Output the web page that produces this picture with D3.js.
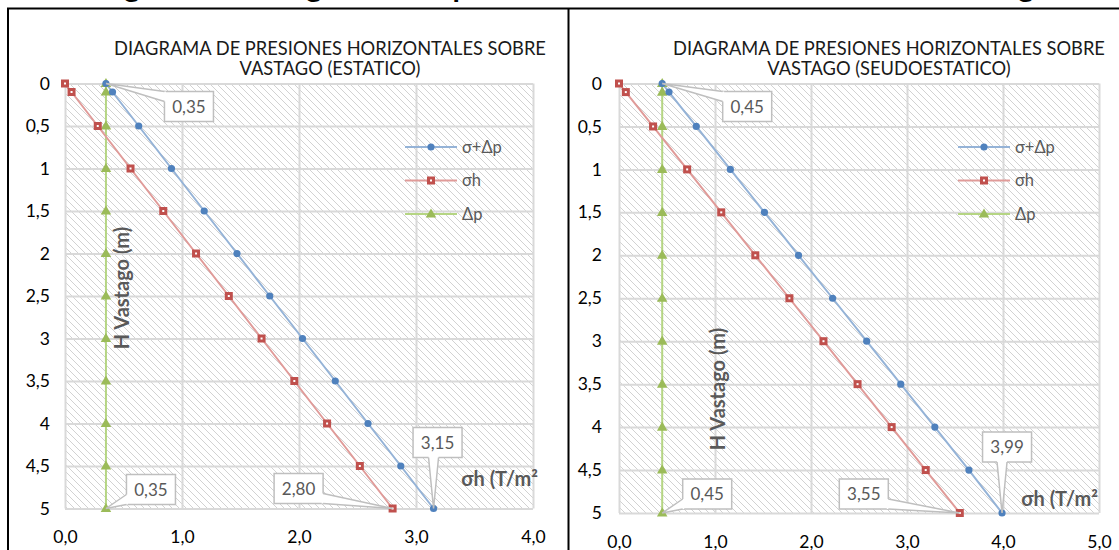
<!DOCTYPE html>
<html><head><meta charset="utf-8">
<script src="https://cdn.jsdelivr.net/npm/d3@7"></script>
<style>body{margin:0;background:#fff}svg{display:block}</style>
</head><body><svg id="c" width="1119" height="550"></svg>
<script>
// ---------- data ----------
const depths      = [0, 0.1, 0.5, 1, 1.5, 2, 2.5, 3, 3.5, 4, 4.5, 5];
const estTotal    = [0.35, 0.406, 0.63, 0.91, 1.19, 1.47, 1.75, 2.03, 2.31, 2.59, 2.87, 3.15];
const estSigmaH   = [0, 0.056, 0.28, 0.56, 0.84, 1.12, 1.40, 1.68, 1.96, 2.24, 2.52, 2.80];
const estDeltaP   = [0.35, 0.35, 0.35, 0.35, 0.35, 0.35, 0.35, 0.35, 0.35, 0.35, 0.35, 0.35];
const seuTotal    = [0.45, 0.521, 0.805, 1.16, 1.515, 1.87, 2.225, 2.58, 2.935, 3.29, 3.645, 3.99];
const seuSigmaH   = [0, 0.071, 0.355, 0.71, 1.065, 1.42, 1.775, 2.13, 2.485, 2.84, 3.195, 3.55];
const seuDeltaP   = [0.45, 0.45, 0.45, 0.45, 0.45, 0.45, 0.45, 0.45, 0.45, 0.45, 0.45, 0.45];
const seriesNames = ["σ+Δp", "σh", "Δp"];
const depthTicks  = [0, 0.5, 1, 1.5, 2, 2.5, 3, 3.5, 4, 4.5, 5];
const estPressureTicks = [0, 1, 2, 3, 4];
const seuPressureTicks = [0, 1, 2, 3, 4, 5];
const estTitle = ["DIAGRAMA DE PRESIONES HORIZONTALES SOBRE", "VASTAGO (ESTATICO)"];
const seuTitle = ["DIAGRAMA DE PRESIONES HORIZONTALES SOBRE", "VASTAGO (SEUDOESTATICO)"];
const yAxisTitle = "H Vastago (m)";
const xAxisTitle = "σh (T/m²";
// data labels: series index, point index, text
const estLabels = [[2, 0, "0,35"], [2, 11, "0,35"], [0, 11, "3,15"], [1, 11, "2,80"]];
const seuLabels = [[2, 0, "0,45"], [2, 11, "0,45"], [0, 11, "3,99"], [1, 11, "3,55"]];
const pageTitleGlyphs = ["g", "g", "p", "g"];

// ---------- drawing ----------
const svg = d3.select("#c");
const FONT = "Lato, 'Open Sans', sans-serif";
const loc = d3.formatLocale({decimal: ",", thousands: ".", grouping: [3], currency: ["", ""]});
const fmtY = loc.format(".1~f");
const fmtX = loc.format(".1f");

const defs = svg.append("defs");
const pat = defs.append("pattern").attr("id", "hatch").attr("patternUnits", "userSpaceOnUse")
  .attr("width", 7).attr("height", 7);
pat.append("rect").attr("width", 7).attr("height", 7).attr("fill", "#fff");
pat.append("path").attr("d", "M0,0L7,7M-1,6L1,8M6,-1L8,1")
  .attr("stroke", "#d2d2d2").attr("stroke-width", 1);

svg.append("rect").attr("width", 1119).attr("height", 550).attr("fill", "#fff");

// cut page title (only descenders visible)
const glyphX = [132, 314, 461, 1026];
svg.selectAll("text.pt").data(pageTitleGlyphs).join("text").attr("class", "pt")
  .attr("x", (d, i) => glyphX[i]).attr("y", -3).attr("text-anchor", "middle")
  .attr("font-family", FONT).attr("font-weight", "bold").attr("font-size", 30).attr("fill", "#000").text(d => d);

// table borders
svg.append("line").attr("x1", 7).attr("x2", 1119).attr("y1", 8.5).attr("y2", 8.5).attr("stroke", "#000").attr("stroke-width", 2);
svg.append("line").attr("x1", 8).attr("x2", 8).attr("y1", 8).attr("y2", 550).attr("stroke", "#000").attr("stroke-width", 2);
svg.append("line").attr("x1", 568.5).attr("x2", 568.5).attr("y1", 8).attr("y2", 550).attr("stroke", "#000").attr("stroke-width", 2);

const styles = [
  {line: "#95b3d7", fill: "#4f81bd", sym: "circle"},
  {line: "#e09b99", fill: "#c0504d", sym: "square"},
  {line: "#b5d583", fill: "#9bbb59", sym: "triangle"}
];

function marker(g, s, x, y) {
  if (s.sym === "circle") {
    g.append("circle").attr("cx", x).attr("cy", y).attr("r", 3.6).attr("fill", s.fill);
  } else if (s.sym === "square") {
    g.append("rect").attr("x", x - 4).attr("y", y - 4).attr("width", 8).attr("height", 8).attr("fill", s.fill);
    g.append("rect").attr("x", x - 1).attr("y", y - 1).attr("width", 2).attr("height", 2).attr("fill", "#fff");
  } else {
    g.append("path").attr("d", d3.symbol(d3.symbolTriangle, 48)()).attr("transform", `translate(${x},${y + 0.5})`)
      .attr("fill", s.fill);
  }
}

function callout(g, px, py, cx, cy, text) {
  const w = 49, h = 30;
  const x0 = cx - w / 2, x1 = cx + w / 2, y0 = cy - h / 2, y1 = cy + h / 2;
  const dx = px < x0 ? x0 - px : (px > x1 ? px - x1 : 0);
  const dy = py < y0 ? y0 - py : (py > y1 ? py - y1 : 0);
  let a, b, ai, bi;
  const bw = 10;
  if (dx >= dy) {
    const ex = px < x0 ? x0 : x1, inx = px < x0 ? x0 + 1.5 : x1 - 1.5;
    let c = Math.max(y0 + bw / 2, Math.min(y1 - bw / 2, py));
    a = [ex, c - bw / 2]; b = [ex, c + bw / 2]; ai = [inx, c - bw / 2]; bi = [inx, c + bw / 2];
  } else {
    const ey = py < y0 ? y0 : y1, iny = py < y0 ? y0 + 1.5 : y1 - 1.5;
    let c = Math.max(x0 + bw / 2, Math.min(x1 - bw / 2, px));
    a = [c - bw / 2, ey]; b = [c + bw / 2, ey]; ai = [c - bw / 2, iny]; bi = [c + bw / 2, iny];
  }
  g.append("rect").attr("x", x0).attr("y", y0).attr("width", w).attr("height", h)
    .attr("fill", "#fff").attr("stroke", "#bfbfbf").attr("stroke-width", 1.5);
  g.append("path").attr("d", `M${ai}L${a}L${px},${py}L${b}L${bi}Z`).attr("fill", "#fff");
  g.append("path").attr("d", `M${a}L${px},${py}L${b}`).attr("fill", "none")
    .attr("stroke", "#bfbfbf").attr("stroke-width", 1.5);
  g.append("text").attr("x", cx).attr("y", cy).attr("dy", "0.36em").attr("text-anchor", "middle")
    .attr("font-family", FONT).attr("font-size", 17).attr("fill", "#595959").text(text);
}

function panel(cfg) {
  const g = svg.append("g");
  const x = d3.scaleLinear().domain([0, cfg.xMax]).range([cfg.left, cfg.right]);
  const y = d3.scaleLinear().domain([0, 5]).range([cfg.top, cfg.bottom]);
  const series = cfg.series;

  // plot area
  g.append("rect").attr("x", cfg.left).attr("y", cfg.top).attr("width", cfg.right - cfg.left)
    .attr("height", cfg.bottom - cfg.top).attr("fill", "url(#hatch)");

  // grid
  const gy = g.append("g").attr("transform", `translate(${cfg.left},0)`)
    .call(d3.axisLeft(y).tickValues(depthTicks).tickSize(-(cfg.right - cfg.left)).tickFormat(""));
  const gx = g.append("g").attr("transform", `translate(0,${cfg.top})`)
    .call(d3.axisTop(x).tickValues(cfg.xTicks).tickSize(-(cfg.bottom - cfg.top)).tickFormat(""));
  [gy, gx].forEach(a => { a.select(".domain").remove(); a.selectAll("line").attr("stroke", "#d9d9d9").attr("stroke-width", 2); });

  // tick labels
  const ly = g.append("g").attr("transform", `translate(${cfg.yLabelX},0)`)
    .call(d3.axisLeft(y).tickValues(depthTicks).tickSize(0).tickPadding(0).tickFormat(fmtY));
  ly.select(".domain").remove();
  ly.selectAll("text").attr("font-family", FONT).attr("font-size", 17.5).attr("fill", "#000");
  const lx = g.append("g").attr("transform", `translate(0,${cfg.xLabelY})`)
    .call(d3.axisBottom(x).tickValues(cfg.xTicks).tickSize(0).tickPadding(0).tickFormat(fmtX));
  lx.select(".domain").remove();
  lx.selectAll("text").attr("font-family", FONT).attr("font-size", 17.5).attr("fill", "#000").attr("dy", "0.35em").attr("y", 0);

  // title
  const cx = cfg.titleX;
  cfg.title.forEach((t, i) => g.append("text").attr("x", cx).attr("y", 54.5 + i * 20).attr("text-anchor", "middle")
    .attr("font-family", FONT).attr("font-size", 18.3).attr("fill", "#1a1a1a").text(t));

  // axis titles
  g.append("text").attr("transform", `translate(${cfg.yTitle[0]},${cfg.yTitle[1]}) rotate(-90)`)
    .attr("text-anchor", "middle").attr("dy", "0.35em").attr("font-family", FONT).attr("font-weight", "bold")
    .attr("font-size", 20).attr("fill", "#595959").text(yAxisTitle);
  g.append("text").attr("x", cfg.xTitleEnd).attr("y", cfg.xTitleY).attr("dy", "0.35em").attr("text-anchor", "end")
    .attr("font-family", FONT).attr("font-weight", "bold").attr("font-size", 20).attr("fill", "#595959").text(xAxisTitle);

  // series lines & markers (draw in reverse so blue on top)
  const line = d3.line().x(d => x(d[0])).y(d => y(d[1]));
  [2, 1, 0].forEach(si => {
    const pts = series[si].map((v, i) => [v, depths[i]]);
    g.append("path").attr("d", line(pts)).attr("fill", "none").attr("stroke", styles[si].line).attr("stroke-width", 2);
  });
  [2, 1, 0].forEach(si => {
    series[si].forEach((v, i) => marker(g, styles[si], x(v), y(depths[i])));
  });

  // legend
  seriesNames.forEach((n, i) => {
    const ly0 = 147 + i * 33.5;
    g.append("line").attr("x1", cfg.legendX).attr("x2", cfg.legendX + 52).attr("y1", ly0).attr("y2", ly0)
      .attr("stroke", styles[i].line).attr("stroke-width", 2);
    marker(g, styles[i], cfg.legendX + 26, ly0);
    g.append("text").attr("x", cfg.legendX + 57).attr("y", ly0).attr("dy", "0.35em")
      .attr("font-family", FONT).attr("font-size", 16.5).attr("fill", "#595959").text(n);
  });

  // data labels
  cfg.labels.forEach(([si, pi, t], k) => {
    const px = x(series[si][pi]), py = y(depths[pi]);
    const off = cfg.labelOffsets[k];
    callout(g, px, py, px + off[0], py + off[1], t);
  });
}

panel({
  left: 65, right: 533, top: 83.5, bottom: 508.5, xMax: 4, xTicks: estPressureTicks,
  series: [estTotal, estSigmaH, estDeltaP], title: estTitle, titleX: 330,
  yLabelX: 50, xLabelY: 537, yTitle: [122, 288], xTitleEnd: 538, xTitleY: 479, legendX: 405,
  labels: estLabels, labelOffsets: [[83, 23], [45, -19], [4, -66], [-94, -20]]
});
panel({
  left: 619, right: 1099, top: 83.5, bottom: 513, xMax: 5, xTicks: seuPressureTicks,
  series: [seuTotal, seuSigmaH, seuDeltaP], title: seuTitle, titleX: 889,
  yLabelX: 602, xLabelY: 542, yTitle: [718, 389], xTitleEnd: 1098, xTitleY: 499, legendX: 958,
  labels: seuLabels, labelOffsets: [[85, 23], [45, -19], [5, -66], [-96, -19]]
});
</script></body></html>
